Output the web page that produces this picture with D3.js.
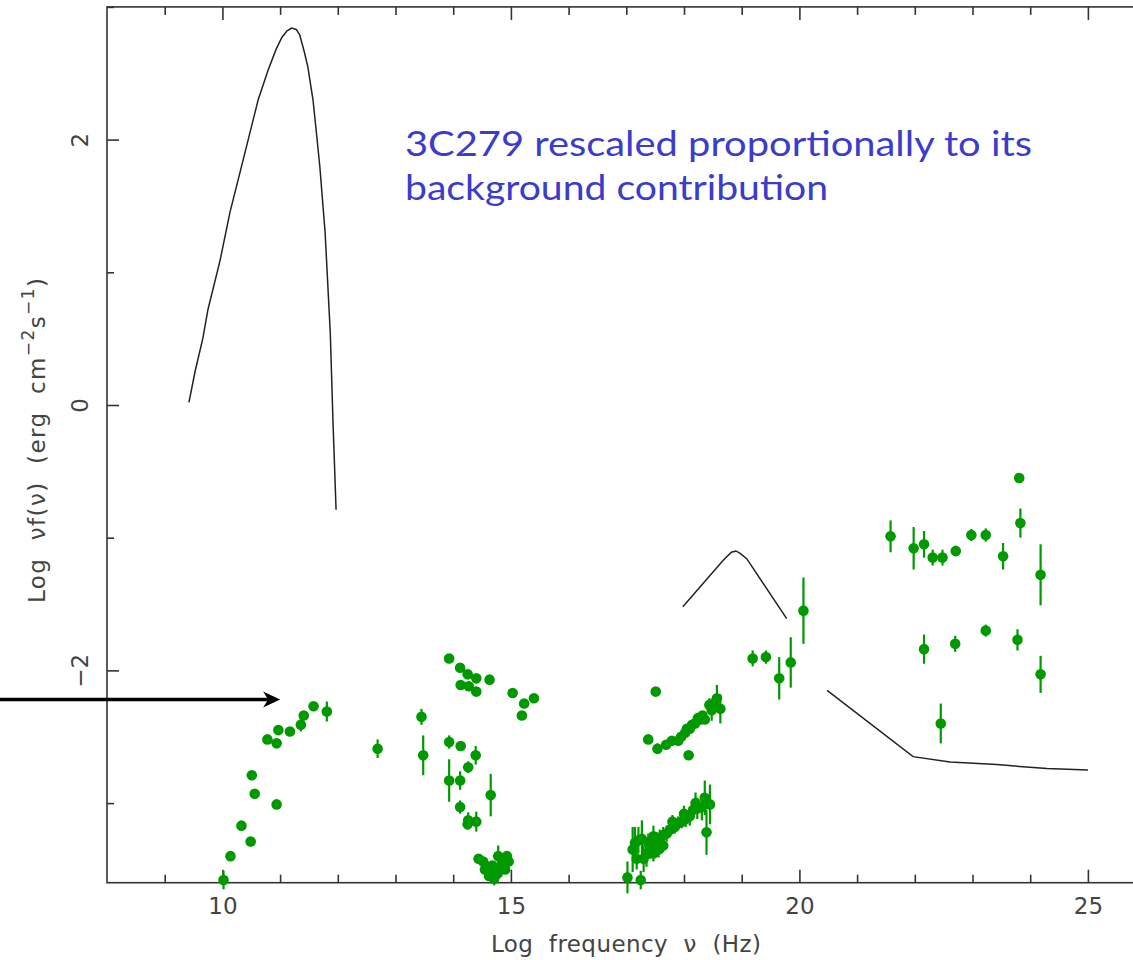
<!DOCTYPE html>
<html>
<head>
<meta charset="utf-8">
<script src="https://cdn.jsdelivr.net/npm/d3@7"></script>
<style>
  body { margin: 0; background: #fff; }
  svg { display: block; }
</style>
</head>
<body>
<script>
// SED of 3C279 (log nu vs log nu f(nu)), model curves + data points

var svgWidth = 1133;
var svgHeight = 960;

// axis ticks
var xMajor = [10, 15, 20, 25];
var xMinor = [9, 11, 12, 13, 14, 16, 17, 18, 19, 21, 22, 23, 24, 26];
var yMajor = [-2, 0, 2];
var yMinor = [-3, -1, 1, 3];

// model curves [log nu, log nuFnu]
var syncCurve = [[9.42, 0.02], [9.53, 0.26], [9.66, 0.50], [9.75, 0.72], [9.96, 1.09],
  [10.13, 1.45], [10.39, 1.90], [10.62, 2.30], [10.79, 2.52], [10.93, 2.68], [11.03, 2.77],
  [11.12, 2.82], [11.2, 2.84], [11.28, 2.83], [11.34, 2.79], [11.42, 2.66], [11.48, 2.55],
  [11.57, 2.30], [11.63, 2.05], [11.69, 1.79], [11.78, 1.30], [11.87, 0.54],
  [11.92, -0.17], [11.97, -0.79]];
var icBump = [[17.98, -1.52], [18.68, -1.17], [18.82, -1.11], [18.9, -1.10], [18.98, -1.12],
  [19.09, -1.16], [19.78, -1.61]];
var gammaModel = [[20.48, -2.15], [21.97, -2.65], [22.61, -2.69], [23.42, -2.71], [24.29, -2.74], [25.0, -2.75]];

// data points [log nu, log nuFnu, error]
var radioPts = [[10.02, -3.58, 0.07], [10.14, -3.40, 0.02], [10.33, -3.17, 0.02], [10.49, -3.29, 0.02],
  [10.51, -2.79, 0.02], [10.56, -2.93, 0.02], [10.78, -2.52, 0.02], [10.94, -2.55, 0.02],
  [10.97, -2.45, 0.02], [10.94, -3.01, 0.02], [11.17, -2.46, 0.02], [11.36, -2.41, 0.05],
  [11.41, -2.34, 0.03], [11.58, -2.27, 0.02], [11.81, -2.31, 0.075], [12.69, -2.59, 0.07]];
var opticalPts = [[13.45, -2.35, 0.06], [13.48, -2.64, 0.15], [13.93, -1.91, 0.02], [14.12, -1.98, 0.02],
  [14.25, -2.03, 0.02], [14.40, -2.06, 0.02], [14.63, -2.07, 0.02], [14.13, -2.11, 0.02],
  [14.27, -2.12, 0.02], [14.40, -2.16, 0.02], [15.03, -2.17, 0.02], [15.23, -2.25, 0.02],
  [15.40, -2.21, 0.02], [15.19, -2.34, 0.02], [13.93, -2.54, 0.05], [14.13, -2.57, 0.02],
  [14.39, -2.64, 0.07], [14.26, -2.73, 0.045], [13.93, -2.83, 0.16], [14.12, -2.83, 0.07],
  [14.65, -2.94, 0.16], [14.12, -3.03, 0.05], [14.26, -3.13, 0.06], [14.40, -3.14, 0.075],
  [14.25, -3.16, 0.04], [14.44, -3.42, 0.02], [14.52, -3.44, 0.03], [14.59, -3.48, 0.04],
  [14.65, -3.52, 0.04], [14.71, -3.57, 0.05], [14.77, -3.53, 0.05], [14.81, -3.49, 0.04],
  [14.87, -3.45, 0.04], [14.93, -3.40, 0.03], [14.96, -3.44, 0.03], [14.78, -3.40, 0.08],
  [14.62, -3.55, 0.03], [14.90, -3.50, 0.03], [14.68, -3.47, 0.03], [14.55, -3.50, 0.03]];
var softXPts = [[17.51, -2.16, 0.02], [17.38, -2.52, 0.02], [17.54, -2.59, 0.04], [17.69, -2.56, 0.02],
  [17.79, -2.53, 0.02], [17.90, -2.53, 0.02], [17.95, -2.50, 0.02], [18.02, -2.47, 0.03],
  [18.05, -2.44, 0.03], [18.10, -2.44, 0.03], [18.14, -2.41, 0.03], [18.19, -2.40, 0.03],
  [18.24, -2.36, 0.03], [18.28, -2.37, 0.03], [18.32, -2.34, 0.03], [18.36, -2.37, 0.03],
  [18.44, -2.26, 0.05], [18.48, -2.30, 0.08], [18.52, -2.25, 0.06], [18.57, -2.21, 0.10],
  [18.63, -2.29, 0.11], [18.08, -2.64, 0.02]];
var lowXPts = [[17.02, -3.56, 0.12], [17.25, -3.58, 0.07], [17.11, -3.35, 0.17], [17.15, -3.30, 0.12],
  [17.21, -3.28, 0.10], [17.27, -3.27, 0.14], [17.30, -3.42, 0.10], [17.35, -3.38, 0.10],
  [17.41, -3.33, 0.09], [17.47, -3.25, 0.08], [17.47, -3.38, 0.06], [17.53, -3.30, 0.08],
  [17.56, -3.35, 0.06], [17.58, -3.27, 0.07], [17.64, -3.24, 0.06], [17.64, -3.32, 0.05],
  [17.70, -3.23, 0.06], [17.76, -3.20, 0.05], [17.84, -3.18, 0.05], [17.90, -3.15, 0.05],
  [17.96, -3.14, 0.05], [18.03, -3.12, 0.06], [18.10, -3.10, 0.07], [18.16, -3.05, 0.06],
  [18.23, -3.04, 0.08], [18.31, -3.03, 0.10], [18.36, -2.96, 0.13], [18.45, -3.01, 0.15],
  [18.39, -3.22, 0.17], [17.18, -3.42, 0.08], [17.38, -3.30, 0.07], [17.80, -3.14, 0.05],
  [18.00, -3.08, 0.06], [18.20, -3.00, 0.08]];
var hardXPts = [[19.19, -1.91, 0.06], [19.42, -1.90, 0.05], [19.65, -2.06, 0.16], [19.85, -1.94, 0.19],
  [20.07, -1.55, 0.25]];
var gammaHigh = [[21.58, -0.99, 0.12], [21.98, -1.08, 0.16], [22.16, -1.05, 0.10], [22.31, -1.15, 0.06],
  [22.48, -1.15, 0.06], [22.71, -1.10, 0.04], [22.98, -0.98, 0.045], [23.23, -0.98, 0.05],
  [23.53, -1.14, 0.10], [23.83, -0.89, 0.11], [23.81, -0.55, 0.02], [24.18, -1.28, 0.23]];
var gammaLow = [[22.16, -1.84, 0.11], [22.70, -1.80, 0.06], [23.23, -1.70, 0.045], [23.78, -1.77, 0.08],
  [24.18, -2.03, 0.14], [22.45, -2.40, 0.15]];

var arrowTip = [11.0, -2.22];
var noteLines = ["3C279 rescaled proportionally to its", "background contribution"];

// scales
var x = d3.scaleLinear().domain([8, 26]).range([107, 1145.6]);
var y = d3.scaleLinear().domain([-3.6, 3]).range([882.7, 6.9]);

var svg = d3.select("body")
  .append("svg")
  .attr("width", svgWidth)
  .attr("height", svgHeight);

var axisColor = "#333";
var green = "#009900";

// frame + inward ticks
function styleAxis(g) {
  g.select(".domain").remove();
  g.selectAll("line").attr("stroke", axisColor).attr("stroke-width", 1.6);
  g.attr("font-family", "DejaVu Sans, sans-serif").attr("font-size", 23);
  g.selectAll("text").attr("fill", "#444");
}

var bottom = svg.append("g").attr("transform", "translate(0," + y(-3.6) + ")");
bottom.call(d3.axisBottom(x).tickValues(xMajor).tickSizeInner(-13).tickSizeOuter(0).tickPadding(15).tickFormat(d3.format("d")))
  .call(styleAxis);
svg.append("g").attr("transform", "translate(0," + y(-3.6) + ")")
  .call(d3.axisBottom(x).tickValues(xMinor).tickSizeInner(-8).tickSizeOuter(0).tickFormat(""))
  .call(styleAxis);
svg.append("g").attr("transform", "translate(0," + y(3) + ")")
  .call(d3.axisTop(x).tickValues(xMajor).tickSizeInner(-13).tickSizeOuter(0).tickFormat(""))
  .call(styleAxis);
svg.append("g").attr("transform", "translate(0," + y(3) + ")")
  .call(d3.axisTop(x).tickValues(xMinor).tickSizeInner(-8).tickSizeOuter(0).tickFormat(""))
  .call(styleAxis);

var left = svg.append("g").attr("transform", "translate(" + x(8) + ",0)");
left.call(d3.axisLeft(y).tickValues(yMajor).tickSizeInner(-12).tickSizeOuter(0).tickFormat(d3.format("d")))
  .call(styleAxis);
left.selectAll(".tick text")
  .attr("x", 0).attr("dy", 0)
  .attr("text-anchor", "middle")
  .attr("transform", "translate(-19,0) rotate(-90)");
svg.append("g").attr("transform", "translate(" + x(8) + ",0)")
  .call(d3.axisLeft(y).tickValues(yMinor).tickSizeInner(-7).tickSizeOuter(0).tickFormat(""))
  .call(styleAxis);
svg.append("g").attr("transform", "translate(" + x(26) + ",0)")
  .call(d3.axisRight(y).tickValues(yMajor).tickSizeInner(-12).tickSizeOuter(0).tickFormat(""))
  .call(styleAxis);
svg.append("g").attr("transform", "translate(" + x(26) + ",0)")
  .call(d3.axisRight(y).tickValues(yMinor).tickSizeInner(-7).tickSizeOuter(0).tickFormat(""))
  .call(styleAxis);

svg.append("rect")
  .attr("x", x(8)).attr("y", y(3))
  .attr("width", x(26) - x(8)).attr("height", y(-3.6) - y(3))
  .attr("fill", "none").attr("stroke", axisColor).attr("stroke-width", 1.6);

// axis titles
svg.append("text")
  .attr("x", 491).attr("y", 952)
  .attr("font-family", "DejaVu Sans, sans-serif").attr("font-size", 23)
  .attr("fill", "#444")
  .attr("textLength", 270).attr("lengthAdjust", "spacing")
  .style("white-space", "pre")
  .text("Log  frequency  \u03bd  (Hz)");

var ytitle = svg.append("text")
  .attr("transform", "translate(45,603) rotate(-90)")
  .attr("font-family", "DejaVu Sans, sans-serif").attr("font-size", 23)
  .attr("fill", "#444")
  .attr("textLength", 325).attr("lengthAdjust", "spacing")
  .style("white-space", "pre");
ytitle.append("tspan").text("Log  \u03bdf(\u03bd)  (erg  cm");
ytitle.append("tspan").attr("dy", -11).attr("font-size", 17).text("\u22122");
ytitle.append("tspan").attr("dy", 11).text("s");
ytitle.append("tspan").attr("dy", -11).attr("font-size", 17).text("\u22121");
ytitle.append("tspan").attr("dy", 11).text(")");

// model lines
var line = d3.line()
  .x(function(d) { return x(d[0]); })
  .y(function(d) { return y(d[1]); });

[syncCurve, icBump, gammaModel].forEach(function(c) {
  svg.append("path")
    .datum(c)
    .attr("d", line)
    .attr("fill", "none")
    .attr("stroke", "#222")
    .attr("stroke-width", 1.5);
});

// data with error bars
var allPts = [].concat(radioPts, opticalPts, softXPts, lowXPts, hardXPts, gammaHigh, gammaLow);

var pts = svg.append("g").selectAll("g")
  .data(allPts)
  .enter().append("g");
pts.append("line")
  .attr("x1", function(d) { return x(d[0]); })
  .attr("x2", function(d) { return x(d[0]); })
  .attr("y1", function(d) { return y(d[1] - d[2]); })
  .attr("y2", function(d) { return y(d[1] + d[2]); })
  .attr("stroke", green)
  .attr("stroke-width", 2.2);
pts.append("circle")
  .attr("cx", function(d) { return x(d[0]); })
  .attr("cy", function(d) { return y(d[1]); })
  .attr("r", 5.3)
  .attr("fill", green);

// arrow pointing at the radio data
var ax = x(arrowTip[0]);
var ay = y(arrowTip[1]);
svg.append("line")
  .attr("x1", 0).attr("y1", ay)
  .attr("x2", ax - 10).attr("y2", ay)
  .attr("stroke", "#000").attr("stroke-width", 3.5);
svg.append("path")
  .attr("d", "M" + ax + "," + ay + " L" + (ax - 17) + "," + (ay - 8) + " L" + (ax - 12) + "," + ay +
    " L" + (ax - 17) + "," + (ay + 8) + " Z")
  .attr("fill", "#000");

// note
var note = svg.append("g")
  .attr("font-family", "'Comic Sans MS', Lato, sans-serif")
  .attr("font-size", 34)
  .attr("fill", "#3b3bcc");
note.append("text").attr("x", 405).attr("y", 156)
  .attr("textLength", 627).attr("lengthAdjust", "spacingAndGlyphs")
  .text(noteLines[0]);
note.append("text").attr("x", 405).attr("y", 200)
  .attr("textLength", 423).attr("lengthAdjust", "spacingAndGlyphs")
  .text(noteLines[1]);
</script>
</body>
</html>
